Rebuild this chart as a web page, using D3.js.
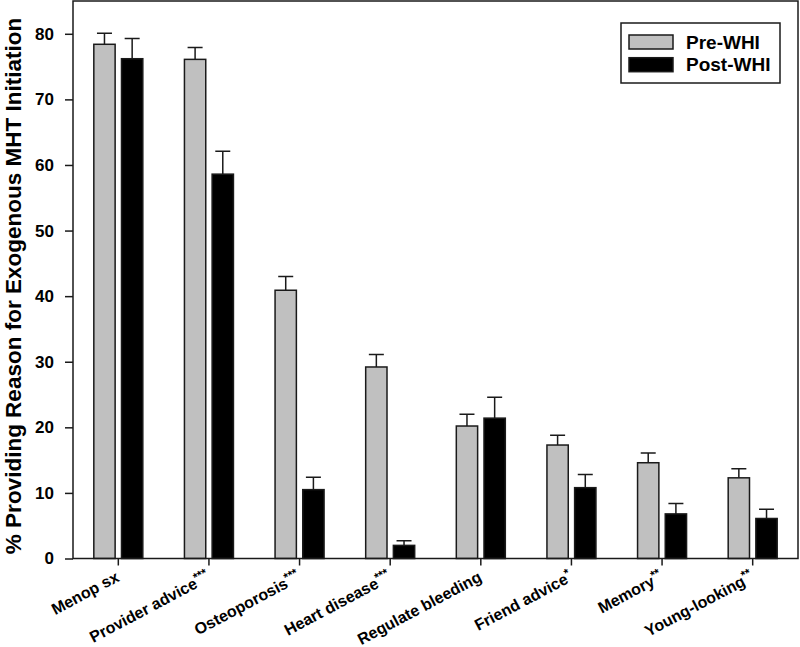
<!DOCTYPE html>
<meta charset="utf-8">
<html>
<head>
  <title>Reasons for MHT initiation</title>
  <style>
    body { margin: 0; background: #fff; }
    svg { display: block; font-family: 'Liberation Sans', Arial, sans-serif; font-weight: bold; }
    .bar { stroke: #1a1a1a; stroke-width: 1.5px; }
    .err { stroke: #1a1a1a; stroke-width: 1.5px; fill: none; }
    .axis path, .axis line { stroke: #1a1a1a; stroke-width: 1.5px; }
    .axis text { fill: #000; }
  </style>
  <script src="https://d3js.org/d3.v7.min.js"></script>
</head>
<body>
  <svg width="800" height="647"></svg>
  <script>

    // categories, stars shown as superscript
    var categories = ["Menop sx", "Provider advice", "Osteoporosis", "Heart disease",
                      "Regulate bleeding", "Friend advice", "Memory", "Young-looking"];
    var stars = ["", "***", "***", "***", "", "*", "**", "**"];

    var series = ["Pre-WHI", "Post-WHI"];
    var preValues  = [78.4, 76.1, 40.9, 29.2, 20.2, 17.3, 14.6, 12.3];
    var preErr     = [1.7, 1.8, 2.1, 1.9, 1.8, 1.5, 1.5, 1.4];
    var postValues = [76.2, 58.6, 10.5, 2.0, 21.4, 10.8, 6.8, 6.1];
    var postErr    = [3.1, 3.5, 1.9, 0.7, 3.2, 2.0, 1.6, 1.4];
    var yTicks = [0, 10, 20, 30, 40, 50, 60, 70, 80];

    var colors = ["#c0c0c0", "#000000"];

    var svg = d3.select("svg");
    var margin = {top: 1, right: 2, bottom: 88.5, left: 73};
    var width = 800 - margin.left - margin.right;
    var height = 647 - margin.top - margin.bottom;

    var g = svg.append("g")
      .attr("transform", "translate(" + margin.left + "," + margin.top + ")");

    var x = d3.scaleBand().domain(categories).range([0, width]).padding(0);
    var x1 = d3.scaleBand().domain(series).range([0, 49]).paddingInner(0.23);
    var y = d3.scaleLinear().domain([0, 85]).range([height, 0]);

    var data = categories.map(function(c, i) {
      return {cat: c, vals: [
        {s: series[0], v: preValues[i], e: preErr[i], c: colors[0]},
        {s: series[1], v: postValues[i], e: postErr[i], c: colors[1]}
      ]};
    });

    var groups = g.selectAll(".grp")
      .data(data)
      .enter().append("g")
        .attr("class", "grp")
        .attr("transform", function(d) {
          return "translate(" + (x(d.cat) + x.bandwidth() / 2 - 24.5) + ",0)";
        });

    // error bars (upper only) drawn first so the bar outline sits on top
    groups.selectAll(".err")
      .data(function(d) { return d.vals; })
      .enter().append("path")
        .attr("class", "err")
        .attr("d", function(d) {
          var cx = x1(d.s) + x1.bandwidth() / 2;
          var yt = y(d.v + d.e);
          return "M" + cx + "," + y(d.v) + "V" + yt + "M" + (cx - 7.5) + "," + yt + "H" + (cx + 7.5);
        });

    groups.selectAll(".bar")
      .data(function(d) { return d.vals; })
      .enter().append("rect")
        .attr("class", "bar")
        .attr("x", function(d) { return x1(d.s); })
        .attr("y", function(d) { return y(d.v); })
        .attr("width", x1.bandwidth())
        .attr("height", function(d) { return height - y(d.v); })
        .attr("fill", function(d) { return d.c; });

    // frame
    g.append("rect")
      .attr("width", width).attr("height", height)
      .attr("fill", "none").attr("stroke", "#1a1a1a").attr("stroke-width", 1.5);

    // y axis
    g.append("g")
      .attr("class", "axis")
      .call(d3.axisLeft(y).tickValues(yTicks).tickSize(8).tickSizeOuter(0).tickPadding(11))
      .call(function(a) { a.select(".domain").remove(); })
      .selectAll("text")
        .style("font-size", "17px")
        .style("font-family", "'Liberation Sans', Arial, sans-serif")
        .style("font-weight", "bold");

    // x axis
    var xa = g.append("g")
      .attr("class", "axis")
      .attr("transform", "translate(0," + height + ")")
      .call(d3.axisBottom(x).tickSize(7).tickSizeOuter(0).tickFormat(""));
    xa.select(".domain").remove();

    var labels = g.selectAll(".xlab")
      .data(categories)
      .enter().append("text")
        .attr("class", "xlab")
        .attr("text-anchor", "end")
        .style("font-size", "16px")
        .attr("transform", function(d) {
          return "translate(" + (x(d) + x.bandwidth() / 2 + 2) + "," + (height + 22) + ") rotate(-28)";
        });
    labels.append("tspan").text(function(d) { return d; });
    labels.append("tspan")
      .attr("dy", "-0.5em")
      .style("font-size", "12px")
      .text(function(d, i) { return stars[i]; });

    // y axis title
    svg.append("text")
      .attr("transform", "translate(21," + 286 + ") rotate(-90)")
      .attr("text-anchor", "middle")
      .style("font-size", "22.5px")
      .text("% Providing Reason for Exogenous MHT Initiation");

    // legend
    var legend = svg.append("g").attr("transform", "translate(621,23)");
    legend.append("rect")
      .attr("width", 159).attr("height", 60)
      .attr("fill", "#fff").attr("stroke", "#1a1a1a").attr("stroke-width", 1.5);
    var items = legend.selectAll(".li")
      .data(series)
      .enter().append("g")
        .attr("transform", function(d, i) { return "translate(8," + (12 + i * 22.7) + ")"; });
    items.append("rect")
      .attr("width", 44).attr("height", 14)
      .attr("fill", function(d, i) { return colors[i]; })
      .attr("stroke", "#1a1a1a").attr("stroke-width", 1.5);
    items.append("text")
      .attr("x", 57).attr("y", 13.5)
      .style("font-size", "19px")
      .text(function(d) { return d; });

  </script>
</body>
</html>
